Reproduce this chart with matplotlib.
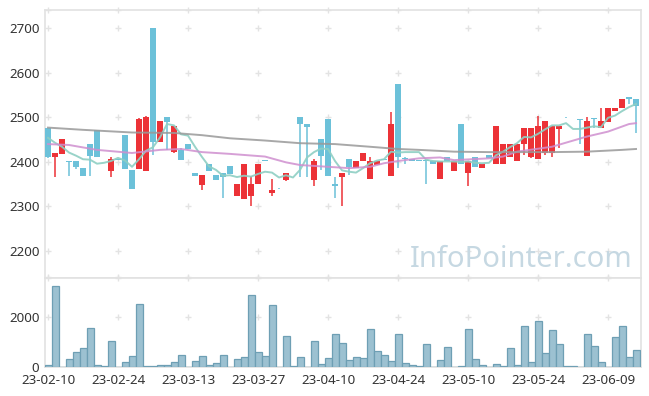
import pandas as pd
import numpy as np
import matplotlib
matplotlib.use("Agg")
import matplotlib.pyplot as plt

plt.rcParams["font.family"] = ["Noto Sans", "DejaVu Sans"]

# Korean market trading days (KRX holidays skipped)
holidays = ["2023-03-01", "2023-05-01", "2023-05-05", "2023-05-29", "2023-06-06"]
dates = pd.bdate_range("2023-02-10", "2023-06-15", freq="C", holidays=holidays)

opens = [2476, 2410, 2418, 2402, 2402, 2386, 2440, 2472, 2411, 2380,
         2407, 2460, 2382, 2384, 2380, 2700, 2445, 2500, 2423, 2427,
         2440, 2374, 2349, 2395, 2371, 2374, 2391, 2324, 2316, 2324,
         2350, 2403, 2330, 2342, 2360, 2373, 2500, 2485, 2360, 2451,
         2496, 2350, 2365, 2406, 2386, 2401, 2361, 2393, 2406, 2369,
         2575, 2409, 2407, 2404, 2404, 2401, 2361, 2410, 2380, 2485,
         2374, 2410, 2386, 2415, 2395, 2395, 2410, 2402, 2440, 2410,
         2406, 2420, 2420, 2474, 2500, 2416, 2497, 2414, 2499, 2475,
         2490, 2515, 2520, 2545, 2541]
highs = [2476, 2420, 2451, 2402, 2402, 2386, 2440, 2472, 2411, 2412,
         2407, 2460, 2382, 2499, 2503, 2700, 2492, 2500, 2481, 2431,
         2440, 2374, 2371, 2395, 2371, 2374, 2391, 2350, 2395, 2368,
         2395, 2403, 2362, 2342, 2374, 2373, 2500, 2485, 2406, 2451,
         2496, 2365, 2374, 2406, 2402, 2420, 2410, 2402, 2406, 2511,
         2575, 2412, 2407, 2404, 2404, 2401, 2402, 2410, 2403, 2485,
         2401, 2410, 2395, 2415, 2481, 2440, 2440, 2440, 2477, 2477,
         2502, 2492, 2481, 2481, 2500, 2416, 2497, 2500, 2499, 2520,
         2520, 2520, 2541, 2545, 2541]
lows = [2408, 2365, 2418, 2369, 2384, 2369, 2369, 2410, 2410, 2365,
        2405, 2384, 2340, 2384, 2380, 2416, 2445, 2427, 2420, 2404,
        2428, 2369, 2336, 2380, 2360, 2320, 2373, 2324, 2316, 2300,
        2350, 2401, 2324, 2340, 2357, 2372, 2365, 2365, 2345, 2382,
        2368, 2320, 2300, 2371, 2386, 2401, 2361, 2393, 2405, 2369,
        2386, 2396, 2403, 2403, 2350, 2395, 2361, 2403, 2380, 2395,
        2345, 2389, 2386, 2409, 2395, 2395, 2410, 2402, 2416, 2408,
        2406, 2415, 2410, 2431, 2499, 2415, 2440, 2414, 2477, 2475,
        2490, 2515, 2520, 2530, 2466]
closes = [2410, 2420, 2451, 2400, 2389, 2369, 2414, 2410, 2410, 2407,
          2405, 2384, 2340, 2496, 2500, 2445, 2492, 2490, 2481, 2404,
          2428, 2369, 2371, 2380, 2360, 2365, 2373, 2350, 2395, 2350,
          2395, 2402, 2337, 2341, 2374, 2372, 2484, 2479, 2402, 2414,
          2368, 2345, 2374, 2389, 2402, 2420, 2402, 2402, 2405, 2485,
          2410, 2407, 2403, 2403, 2402, 2395, 2402, 2403, 2403, 2395,
          2401, 2389, 2395, 2409, 2481, 2440, 2440, 2440, 2477, 2477,
          2481, 2492, 2481, 2481, 2500, 2415, 2495, 2492, 2496, 2492,
          2520, 2520, 2541, 2541, 2526]
volumes = [80, 3227, 0, 307, 587, 747, 1547, 67, 27, 1027,
           0, 187, 427, 2507, 27, 27, 67, 67, 187, 467,
           0, 227, 427, 67, 147, 467, 0, 307, 387, 2867,
           587, 427, 2467, 0, 1227, 27, 387, 0, 1027, 107,
           347, 1310, 950, 280, 387, 347, 1507, 640, 480, 240,
           1320, 147, 67, 27, 920, 0, 280, 787, 0, 27,
           1507, 307, 67, 0, 107, 40, 747, 67, 1627, 187,
           1827, 547, 1467, 907, 27, 27, 0, 1320, 827, 187,
           0, 1187, 1627, 387, 667]

# moving averages
ma5 = [2454, 2443, 2434, 2421, 2414, 2406, 2405, 2396, 2398, 2402,
       2409, 2403, 2389, 2406, 2425, 2433, 2455, 2485, 2482, 2462,
       2459, 2434, 2411, 2390, 2382, 2369, 2370, 2366, 2369, 2367,
       2373, 2378, 2376, 2365, 2370, 2365, 2382, 2410, 2422, 2430,
       2429, 2402, 2381, 2378, 2376, 2386, 2397, 2403, 2406, 2423,
       2421, 2422, 2422, 2422, 2405, 2402, 2401, 2401, 2401, 2400,
       2401, 2398, 2397, 2398, 2415, 2423, 2433, 2442, 2456, 2455,
       2463, 2473, 2482, 2482, 2487, 2474, 2474, 2477, 2480, 2478,
       2499, 2504, 2514, 2523, 2530]
ma20_idx = [0, 3, 7, 12, 16, 19, 22, 26, 31, 34, 36, 41, 43, 46, 48, 50,
            53, 56, 58, 63, 65, 67, 72, 77, 80, 83, 84]
ma20 = [2440, 2438, 2427, 2420, 2427, 2429, 2422, 2418, 2412, 2399, 2393,
        2388, 2386, 2389, 2397, 2402, 2408, 2410, 2404, 2408, 2412, 2423,
        2434, 2457, 2468, 2485, 2487]
ma60_idx = [0, 5, 12, 18, 22, 26, 31, 36, 41, 46, 50, 53, 58, 63, 67, 72,
            77, 82, 84]
ma60 = [2477, 2472, 2466, 2465, 2460, 2453, 2448, 2442, 2440, 2434, 2429,
        2427, 2423, 2422, 2422, 2422, 2423, 2427, 2429]

UP = "#ec3237"
DOWN = "#6cc1d9"
FRAME = "#e2e2e2"
TXT = "#333333"

n = len(closes)
x = np.arange(n)
o = np.array(opens, float)
c = np.array(closes, float)
up = c > o

fig = plt.figure(figsize=(6.49, 3.96), dpi=100)
W, H = 649, 396
L, R, T, M, B = 45, 640.5, 10, 277.5, 367
ax = fig.add_axes([L / W, (H - M) / H, (R - L) / W, (M - T) / H])
axv = fig.add_axes([L / W, (H - B) / H, (R - L) / W, (B - M) / H], sharex=ax)

cols = [UP if u else DOWN for u in up]
ax.vlines(x, lows, highs, colors=cols, linewidth=1.1, zorder=2)
body_lo = np.minimum(o, c)
body_h = np.maximum(np.abs(c - o), 1.3)
ax.bar(x, body_h, bottom=body_lo, width=0.72, color=cols, linewidth=0, zorder=3)

ax.plot(x, ma5, color="#8ecfc3", linewidth=1.4, alpha=0.9, zorder=4)
ax.plot(ma20_idx, ma20, color="#cf8fcf", linewidth=1.4, alpha=0.85, zorder=4)
ax.plot(ma60_idx, ma60, color="#999999", linewidth=1.4, alpha=0.85, zorder=4)

axv.bar(x, volumes, width=1.0, color="#9cc1d1", edgecolor="#6e9fb4",
        linewidth=0.9, zorder=3)

xt = x[::10]
ax.set_xlim(-0.43, 84.64)
ax.set_ylim(2140.5, 2741)
axv.set_ylim(0, 3580)
ax.set_yticks([2200, 2300, 2400, 2500, 2600, 2700])
axv.set_yticks([0, 2000])
axv.set_xticks(xt)
axv.set_xticklabels([dates[i].strftime("%y-%m-%d") for i in xt])

for a in (ax, axv):
    for s in a.spines.values():
        s.set_color(FRAME)
        s.set_linewidth(1.2)
    a.tick_params(length=0, labelsize=9.6, colors=TXT, pad=4)
ax.tick_params(labelbottom=False)
axv.tick_params(axis="x", pad=5)
axv.get_yticklabels()[0].set_verticalalignment("center_baseline")

# little crosses at grid intersections
gx, gy = np.meshgrid(xt, [2141, 2200, 2300, 2400, 2500, 2600, 2700, 2740])
ax.plot(gx.ravel(), gy.ravel(), "+", color="#e3e3e3", markersize=5,
        markeredgewidth=1, zorder=1, clip_on=False)
gx, gy = np.meshgrid(xt, [2000, 3570])
axv.plot(gx.ravel(), gy.ravel(), "+", color="#e3e3e3", markersize=5,
         markeredgewidth=1, zorder=1, clip_on=False)

ax.text(0.986, 0.039, "InfoPointer.com", transform=ax.transAxes,
        ha="right", va="baseline", fontsize=21, color="#c6d8e2", zorder=5)

fig.savefig("out.png", dpi=100)
